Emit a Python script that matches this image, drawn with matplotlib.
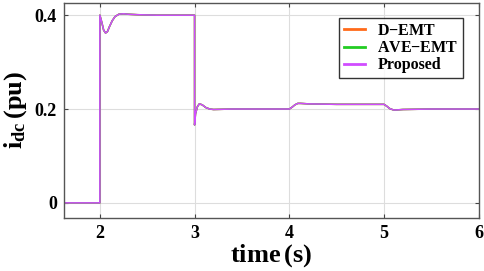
import numpy as np
import matplotlib.pyplot as plt

# dc current waveform (all three models overlap)
time = [1.62, 2.0, 2.0, 2.02, 2.04, 2.06, 2.08, 2.10, 2.13, 2.16, 2.20, 2.25,
        2.30, 2.40, 2.60, 3.0, 3.0, 3.01, 3.03, 3.05, 3.08, 3.12, 3.16, 3.2,
        3.4, 4.0, 4.03, 4.06, 4.09, 4.12, 4.2, 4.5, 5.0, 5.03, 5.06, 5.1,
        5.13, 5.2, 5.5, 6.0]
idc = [0, 0, 0.40, 0.385, 0.368, 0.362, 0.365, 0.375, 0.388, 0.397, 0.402,
       0.403, 0.402, 0.401, 0.400, 0.400, 0.166, 0.19, 0.205, 0.211, 0.209,
       0.203, 0.200, 0.199, 0.200, 0.200, 0.204, 0.209, 0.212, 0.212, 0.211,
       0.210, 0.210, 0.206, 0.201, 0.198, 0.198, 0.199, 0.200, 0.200]
labels = ['D$-$EMT', 'AVE$-$EMT', 'Proposed']
colors = ['#FF6A1A', '#22CC22', '#D04CFF']
xticks = [2, 3, 4, 5, 6]
yticks = [0, 0.2, 0.4]

plt.rcParams['font.family'] = 'Liberation Serif'
plt.rcParams['font.weight'] = 'bold'
plt.rcParams['mathtext.fontset'] = 'custom'
plt.rcParams['mathtext.rm'] = 'Liberation Serif:bold'
plt.rcParams['mathtext.it'] = 'Liberation Serif:bold'
plt.rcParams['mathtext.bf'] = 'Liberation Serif:bold'

fig = plt.figure(figsize=(4.84, 2.71), dpi=100)
ax = fig.add_axes([0.132, 0.196, 0.857, 0.793])

for lab, c in zip(labels, colors):
    ax.plot(time, idc, color=c, lw=1.1, label=lab)

ax.set_xlim(1.62, 6.0)
ax.set_ylim(-0.032, 0.426)
ax.set_xticks(xticks)
ax.set_yticks(yticks)
ax.set_yticklabels(['0', '0.2', '0.4'])
ax.grid(True, color='#dddddd', lw=0.8)
ax.tick_params(direction='in', top=True, right=True, labelsize=13, length=3,
               color='#444444', pad=5)
for s in ax.spines.values():
    s.set_color('#555555')
    s.set_linewidth(1.0)

ax.set_xlabel(r'time$\,$(s)', fontsize=19, fontweight='bold', labelpad=0)
ax.set_ylabel(r'i$_{\mathrm{dc}}$$\,$(pu)', fontsize=19, fontweight='bold', labelpad=4)

leg = ax.legend(loc='upper right', bbox_to_anchor=(0.963, 0.93), fontsize=11.5,
                frameon=True, fancybox=False, handlelength=1.3,
                borderpad=0.3, labelspacing=0.08, handletextpad=0.8,
                borderaxespad=0)
leg.get_frame().set_edgecolor('black')
leg.get_frame().set_linewidth(1.0)
for h in leg.get_lines():
    h.set_linewidth(2.0)

plt.savefig('out.png', dpi=100)
